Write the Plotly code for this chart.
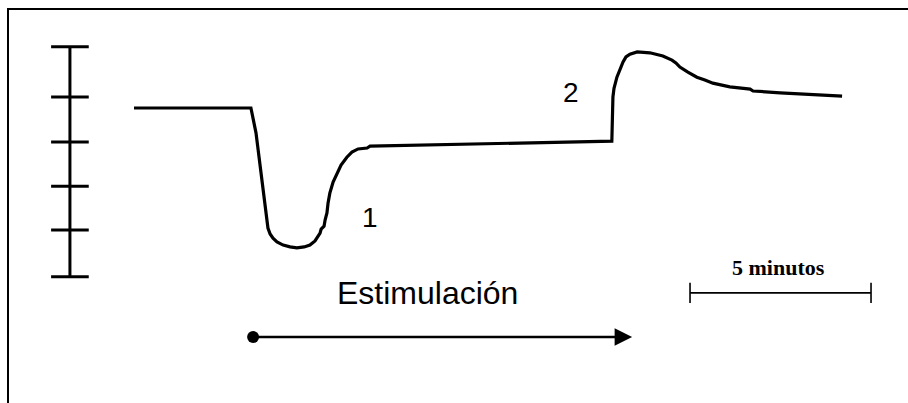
import plotly.graph_objects as go

# Recorded response: time in minutes, signal in scale-bar units
time_min = [0.00, 3.23, 3.37, 3.56, 3.70, 3.76, 3.84, 3.95, 4.12, 4.31, 4.50, 4.70,
            4.86, 5.00, 5.08, 5.14, 5.17, 5.25, 5.28, 5.33, 5.36, 5.41, 5.50, 5.61,
            5.72, 5.88, 6.02, 6.19, 6.44, 6.52, 8.18, 13.20, 13.23, 13.26, 13.34,
            13.43, 13.51, 13.59, 13.70, 13.90, 14.25, 14.61, 14.86, 14.97, 15.08,
            15.30, 15.55, 15.77, 15.99, 16.46, 17.02, 17.10, 17.85, 19.56]
signal = [0.00, 0.00, -0.54, -1.67, -2.61, -2.74, -2.83, -2.91, -2.98, -3.02, -3.04,
          -3.02, -2.98, -2.89, -2.80, -2.72, -2.63, -2.57, -2.43, -2.28, -2.07, -1.85,
          -1.61, -1.41, -1.24, -1.07, -0.96, -0.89, -0.87, -0.83, -0.80, -0.72, 0.24,
          0.43, 0.67, 0.87, 1.00, 1.11, 1.17, 1.22, 1.20, 1.13, 1.04, 0.98, 0.89,
          0.78, 0.67, 0.61, 0.54, 0.46, 0.41, 0.37, 0.33, 0.26]

# Vertical calibration bar (tick levels, signal units)
cal_bar_time = -1.77
cal_tick_levels = [1.33, 0.24, -0.74, -1.70, -2.65, -3.67]
cal_tick_half = 0.52

# Time scale bar
time_bar_start = 15.36
time_bar_minutes = 5
time_bar_level = -4.02
time_bar_label = "5 minutos"

# Stimulation period
stim_start = 3.29
stim_end = 13.76
stim_level = -4.98
stim_label = "Estimulación"

# Event labels
event_labels = ["1", "2"]
event_times = [6.53, 12.06]
event_levels = [-2.39, 0.34]

# Canvas geometry
W, H = 908, 403
PX_PER_MIN = 36.2
PX_PER_UNIT = 46.0
ORIGIN_X, ORIGIN_Y = 134, 108
ML, MT = 9, 10

x_range = [(ML - ORIGIN_X) / PX_PER_MIN, (W - ORIGIN_X) / PX_PER_MIN]
y_range = [(ORIGIN_Y - H) / PX_PER_UNIT, (ORIGIN_Y - MT) / PX_PER_UNIT]

fig = go.Figure()

# main trace
fig.add_trace(go.Scatter(
    x=time_min, y=signal, mode="lines",
    line=dict(color="black", width=3.2), hoverinfo="skip"))

# calibration bar with ticks
cx, cy = [cal_bar_time, cal_bar_time, None], [cal_tick_levels[0], cal_tick_levels[-1], None]
for lv in cal_tick_levels:
    cx += [cal_bar_time - cal_tick_half, cal_bar_time + cal_tick_half, None]
    cy += [lv, lv, None]
fig.add_trace(go.Scatter(x=cx, y=cy, mode="lines",
                         line=dict(color="black", width=3), hoverinfo="skip"))

# time scale bar
tb_end = time_bar_start + time_bar_minutes
tick_h = 0.22
fig.add_trace(go.Scatter(
    x=[time_bar_start, tb_end, None, time_bar_start, time_bar_start, None, tb_end, tb_end],
    y=[time_bar_level, time_bar_level, None, time_bar_level - tick_h, time_bar_level + tick_h,
       None, time_bar_level - tick_h, time_bar_level + tick_h],
    mode="lines", line=dict(color="black", width=1.6), hoverinfo="skip"))

# stimulation start dot
fig.add_trace(go.Scatter(x=[stim_start], y=[stim_level], mode="markers",
                         marker=dict(color="black", size=12, symbol="circle"),
                         hoverinfo="skip"))

annotations = [
    dict(x=stim_end, y=stim_level, ax=stim_start, ay=stim_level, xref="x", yref="y",
         axref="x", ayref="y", showarrow=True, arrowhead=2, arrowsize=1.4,
         arrowwidth=2.5, arrowcolor="black", text=""),
    dict(x=8.11, y=time_bar_level, xref="x", yref="y",
         text=stim_label, showarrow=False,
         font=dict(family="Liberation Sans, Arial", size=32, color="black")),
    dict(x=time_bar_start + time_bar_minutes / 2 - 0.06, y=-3.46, xref="x", yref="y",
         text="<b>" + time_bar_label + "</b>", showarrow=False,
         font=dict(family="Liberation Serif, Times New Roman", size=22, color="black")),
]
for lab, t, v in zip(event_labels, event_times, event_levels):
    annotations.append(dict(x=t, y=v, xref="x", yref="y", text=lab, showarrow=False,
                            font=dict(family="Liberation Sans, Arial", size=28,
                                      color="black")))

fig.update_layout(
    width=W, height=H, margin=dict(l=ML, t=MT, r=0, b=0, pad=0),
    paper_bgcolor="white", plot_bgcolor="white", showlegend=False,
    annotations=annotations,
    xaxis=dict(range=x_range, side="top", showline=True, linecolor="black",
               linewidth=2, showgrid=False, zeroline=False, showticklabels=False,
               ticks="", fixedrange=True),
    yaxis=dict(range=y_range, showline=True, linecolor="black", linewidth=2,
               showgrid=False, zeroline=False, showticklabels=False, ticks="",
               fixedrange=True),
)

fig.write_html("out.html", config={"displayModeBar": False})
